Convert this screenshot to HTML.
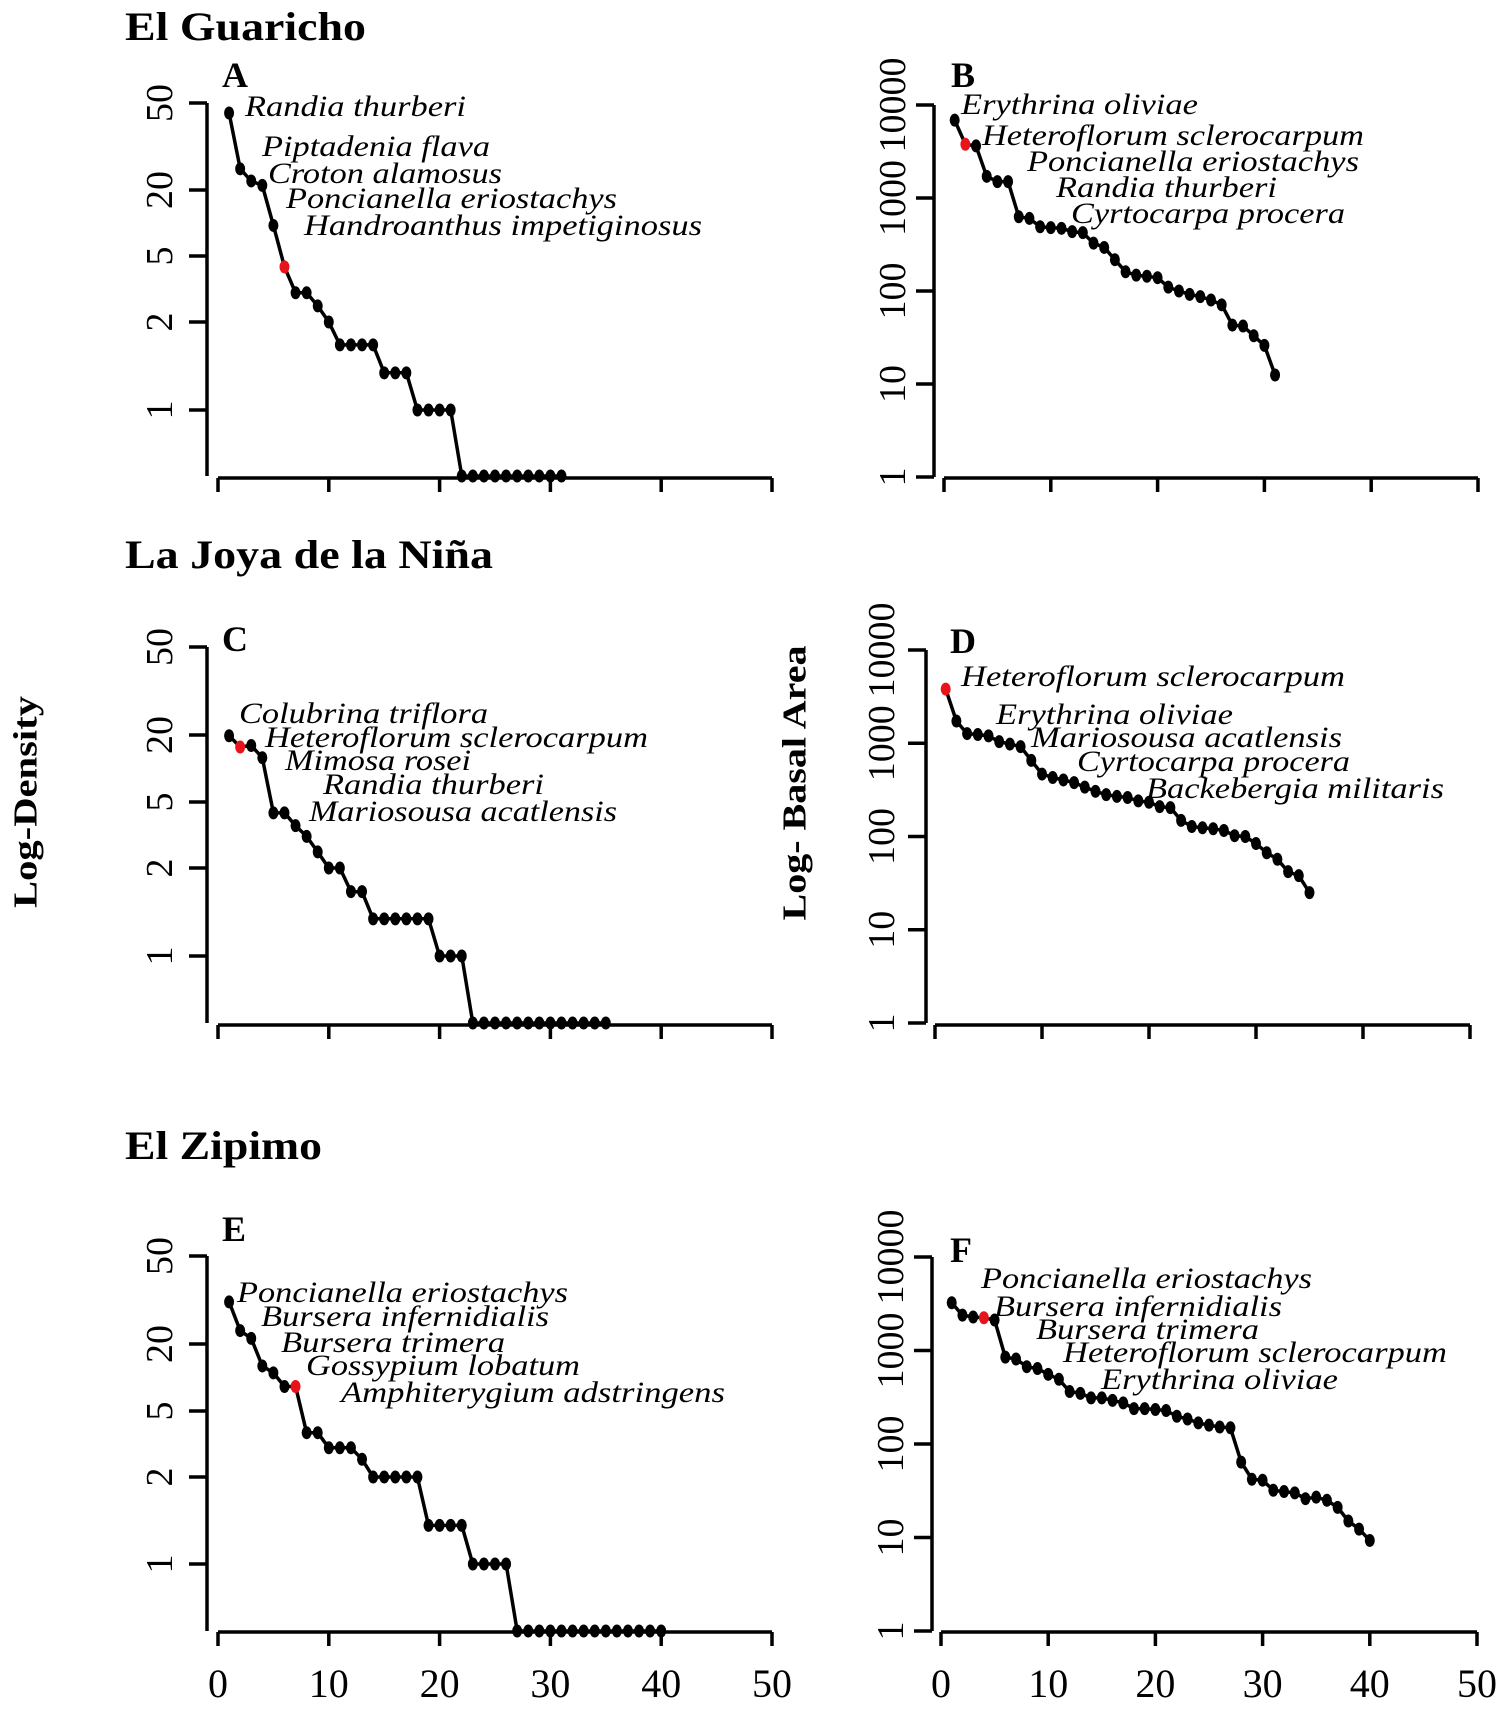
<!DOCTYPE html>
<html><head><meta charset="utf-8"><style>
html,body{margin:0;padding:0;background:#fff;}
svg{display:block;}
text{font-family:"Liberation Serif","Times New Roman",serif;fill:#000;}
</style></head><body>
<svg id="fig" width="1500" height="1709" viewBox="0 0 1500 1709" xmlns="http://www.w3.org/2000/svg" font-family="Liberation Serif, serif"></svg>
<script>
// ---- data ----
const densTickLabels = [50, 20, 5, 2, 1];
const baTickLabels = [10000, 1000, 100, 10, 1];
const xTickLabels = [0, 10, 20, 30, 40, 50];

const densA = [45,25,22,21,9.5,4.3,3,3,2.5,2,1.67,1.67,1.67,1.67,1.34,1.34,1.34,1,1,1,1,0,0,0,0,0,0,0,0,0,0];
const baB = [6870,3780,3630,1710,1500,1500,628,603,491,480,472,435,424,327,294,217,161,148,144,139,110,100,92,87,80,71,43,42,33,26,12.5];
const densC = [19.7,15.6,16.1,12.5,4.3,4.3,3.6,3.1,2.5,2,2,1.66,1.66,1.34,1.34,1.34,1.34,1.34,1.34,1,1,1,0,0,0,0,0,0,0,0,0,0,0,0,0];
const baD = [3810,1730,1270,1240,1200,1040,980,920,655,467,429,404,378,338,305,281,269,262,241,233,209,204,149,128,124,121,116,102,100,84,67,57,42,38,25];
const densE = [31,23,21.2,12.7,11,8.3,8.3,3.7,3.7,3,3,3,2.56,2,2,2,2,2,1.36,1.36,1.36,1.36,1,1,1,1,0,0,0,0,0,0,0,0,0,0,0,0,0,0];
const baF = [3240,2390,2280,2240,2120,850,811,671,641,556,492,364,348,311,311,293,275,239,239,234,228,198,185,168,159,152,149,64,42,41,32,31,30,26,27,25,21,15,12.3,9.3];

const redA = 6, redB = 2, redC = 2, redD = 1, redE = 7, redF = 4;

const labelsA = ["Randia thurberi","Piptadenia flava","Croton alamosus","Poncianella eriostachys","Handroanthus impetiginosus"];
const labelsB = ["Erythrina oliviae","Heteroflorum sclerocarpum","Poncianella eriostachys","Randia thurberi","Cyrtocarpa procera"];
const labelsC = ["Colubrina triflora","Heteroflorum sclerocarpum","Mimosa rosei","Randia thurberi","Mariosousa acatlensis"];
const labelsD = ["Heteroflorum sclerocarpum","Erythrina oliviae","Mariosousa acatlensis","Cyrtocarpa procera","Backebergia militaris"];
const labelsE = ["Poncianella eriostachys","Bursera infernidialis","Bursera trimera","Gossypium lobatum","Amphiterygium adstringens"];
const labelsF = ["Poncianella eriostachys","Bursera infernidialis","Bursera trimera","Heteroflorum sclerocarpum","Erythrina oliviae"];

// ---- helpers ----
const NS = "http://www.w3.org/2000/svg";
const svg = document.getElementById('fig');
function mk(tag, attrs, parent){
  const e = document.createElementNS(NS, tag);
  for (const k in attrs) e.setAttribute(k, attrs[k]);
  (parent||svg).appendChild(e);
  return e;
}
function densScale(pos){
  const tv = [0,1,2,5,20,50];
  return function(v){
    if (v <= 0) return pos[0];
    if (v <= 1) return pos[0] + (pos[1]-pos[0]) * v;
    for (let i=1;i<tv.length-1;i++){
      if (v <= tv[i+1]){
        const f = (Math.log10(v)-Math.log10(tv[i]))/(Math.log10(tv[i+1])-Math.log10(tv[i]));
        return pos[i] + (pos[i+1]-pos[i])*f;
      }
    }
    const f = (Math.log10(v)-Math.log10(20))/(Math.log10(50)-Math.log10(20));
    return pos[4] + (pos[5]-pos[4])*f;
  };
}
function logScale(y1, y10000){
  return v => y1 + (y10000 - y1) * Math.log10(v) / 4;
}

function panel(cfg){
  const g = mk('g', {});
  
  
  const xs = v => cfg.x0 + (cfg.x50 - cfg.x0) * v / 50;
  const ys = cfg.ys;
  const ya = mk('g', {}, g);
  
  
  mk('line', {x1:cfg.ax, x2:cfg.ax, y1:cfg.yTop, y2:cfg.yBot, stroke:'#000','stroke-width':3.5}, ya);
  cfg.tickVals.forEach(t => {
    const y = ys(t);
    mk('line', {x1:cfg.ax-18, x2:cfg.ax, y1:y, y2:y, stroke:'#000','stroke-width':3.5}, ya);
    const tx = mk('text', {x:0, y:0, 'font-size':38, 'text-anchor':'middle',
      transform:`translate(${cfg.labX},${y}) rotate(-90)`, 'dominant-baseline':'central'}, ya);
    tx.textContent = t;
    
    
  });
  const xa = mk('g', {}, g);
  
  
  mk('line', {x1:cfg.x0, x2:cfg.x50, y1:cfg.xAxisY, y2:cfg.xAxisY, stroke:'#000','stroke-width':3.5}, xa);
  xTickLabels.forEach(t => {
    const x = xs(t);
    mk('line', {x1:x, x2:x, y1:cfg.xAxisY, y2:cfg.xAxisY+14, stroke:'#000','stroke-width':3.5}, xa);
    if (cfg.showXLabels){
      const tx = mk('text', {x:x, y:cfg.xLabY, 'font-size':40, 'text-anchor':'middle'}, xa);
      tx.textContent = t;
      
      
    }
  });
  const pts = cfg.data.map((v,i) => [xs(i+1), ys(v)]);
  const line = mk('polyline', {points: pts.map(p=>p[0].toFixed(1)+','+p[1].toFixed(1)).join(' '),
    fill:'none', stroke:'#000', 'stroke-width':3.5, 'stroke-linejoin':'round'}, g);
  
  
  pts.forEach((p,i) => {
    const red = (i+1) === cfg.red;
    const c = mk('ellipse', {cx:p[0], cy:p[1], rx:5, ry:6.5, fill: red ? '#e8141c' : '#000'}, g);
    
    
  });
  const pl = mk('text', {x:cfg.letterX, y:cfg.letterY, 'font-size':36, 'font-weight':'bold'}, g);
  pl.textContent = cfg.letter;
  
  
  cfg.labels.forEach((s,i) => {
    const L = cfg.labelPos[i];
    const t = mk('text', {x:L[0], y:L[1], 'font-size':30, 'font-style':'italic',
      textLength: L[2]-L[0], lengthAdjust:'spacingAndGlyphs'}, g);
    t.textContent = s;
    
    
  });
}

function title(txt, x, y, x2){
  const t = mk('text', {x:x, y:y, 'font-size':40, 'font-weight':'bold', textLength:x2-x, lengthAdjust:'spacingAndGlyphs'});
  t.textContent = txt;
  
  
}
title('El Guaricho', 125, 40, 366);
title('La Joya de la Niña', 125, 568, 493);
title('El Zipimo', 125, 1159, 322);

const yl1 = mk('text', {x:0, y:0, 'font-size':34, 'font-weight':'bold', 'text-anchor':'middle',
  'dominant-baseline':'central', transform:'translate(26,802) rotate(-90)', textLength:212, lengthAdjust:'spacingAndGlyphs'});
yl1.textContent = 'Log-Density';


const yl2 = mk('text', {x:0, y:0, 'font-size':34, 'font-weight':'bold', 'text-anchor':'middle',
  'dominant-baseline':'central', transform:'translate(795,783) rotate(-90)', textLength:275, lengthAdjust:'spacingAndGlyphs'});
yl2.textContent = 'Log- Basal Area';



panel({name:'panel-a', data:densA, red:redA, ax:207, yTop:103, yBot:476, ys:densScale([476,410,322,256,190,103]),
  tickVals:densTickLabels, labX:160, x0:218, x50:772, xAxisY:478, showXLabels:false, letter:'A', letterX:222, letterY:87,
  labels:labelsA, labelPos:[[245,116,466],[262,156,490],[268,183,502],[286,208,617],[304,235,702]]});
panel({name:'panel-b', data:baB, red:redB, ax:934, yTop:105, yBot:477, ys:logScale(477,105),
  tickVals:baTickLabels, labX:893, x0:944, x50:1478, xAxisY:478, showXLabels:false, letter:'B', letterX:951, letterY:87,
  labels:labelsB, labelPos:[[961,114,1198],[982,145,1364],[1027,171,1359],[1056,197,1277],[1071,223,1345]]});
panel({name:'panel-c', data:densC, red:redC, ax:207, yTop:647, yBot:1023, ys:densScale([1023,956,868,802,735,647]),
  tickVals:densTickLabels, labX:160, x0:218, x50:772, xAxisY:1025, showXLabels:false, letter:'C', letterX:222, letterY:651,
  labels:labelsC, labelPos:[[239,723,488],[265,747,648],[285,770,471],[323,794,544],[309,821,617]]});
panel({name:'panel-d', data:baD, red:redD, ax:926, yTop:650, yBot:1023, ys:logScale(1023,650),
  tickVals:baTickLabels, labX:882, x0:935, x50:1470, xAxisY:1025, showXLabels:false, letter:'D', letterX:950, letterY:653,
  labels:labelsD, labelPos:[[961,686,1345],[996,724,1233],[1031,747,1342],[1077,771,1350],[1146,798,1444]]});
panel({name:'panel-e', data:densE, red:redE, ax:207, yTop:1256, yBot:1631, ys:densScale([1631,1564,1477,1411,1344,1256]),
  tickVals:densTickLabels, labX:160, x0:218, x50:772, xAxisY:1632, showXLabels:true, xLabY:1697, letter:'E', letterX:222, letterY:1241,
  labels:labelsE, labelPos:[[237,1302,568],[261,1326,549],[281,1352,505],[306,1375,580],[341,1402,725]]});
panel({name:'panel-f', data:baF, red:redF, ax:932, yTop:1257, yBot:1631, ys:logScale(1631,1257),
  tickVals:baTickLabels, labX:891, x0:941, x50:1477, xAxisY:1632, showXLabels:true, xLabY:1697, letter:'F', letterX:950, letterY:1262,
  labels:labelsF, labelPos:[[981,1288,1312],[994,1316,1282],[1036,1339,1259],[1063,1362,1447],[1101,1389,1338]]});
</script>
</body></html>
